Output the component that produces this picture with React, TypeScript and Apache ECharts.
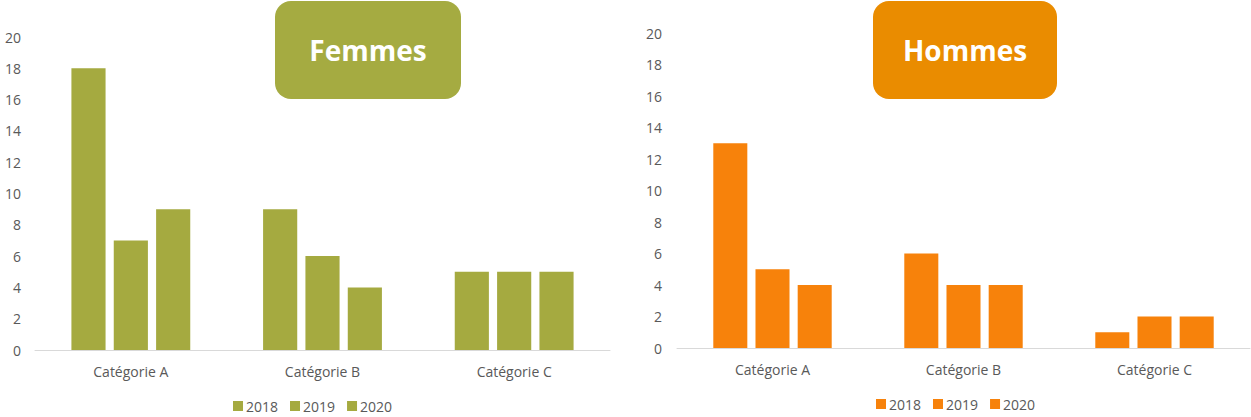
import React, { useEffect, useRef } from "react";
import * as echarts from "echarts";

const categories = ["Catégorie A", "Catégorie B", "Catégorie C"];
const years = ["2018", "2019", "2020"];
const femmes2018 = [18, 9, 5];
const femmes2019 = [7, 6, 5];
const femmes2020 = [9, 4, 5];
const hommes2018 = [13, 6, 1];
const hommes2019 = [5, 4, 2];
const hommes2020 = [4, 4, 2];

const FONT = "'Open Sans', 'Noto Sans', sans-serif";
const GREY = "#595959";

type Cfg = {
  title: string;
  boxColor: string;
  barColor: string;
  data: number[][];
  grid: { left: number; top: number; width: number; height: number };
  box: { x: number; y: number; w: number; h: number };
  legend: { left: number; top: number };
  yMargin: number;
};

function buildOption(c: Cfg) {
  return {
    animation: false,
    textStyle: { fontFamily: FONT },
    grid: { ...c.grid, containLabel: false },
    legend: {
      data: years,
      left: c.legend.left,
      top: c.legend.top,
      padding: 0,
      itemWidth: 10,
      itemHeight: 10,
      itemGap: 12,
      icon: "rect",
      textStyle: { color: GREY, fontSize: 14, fontFamily: FONT, padding: [0, 0, 0, -2] },
    },
    xAxis: {
      type: "category",
      data: categories,
      axisLine: { lineStyle: { color: "#D9D9D9", width: 1 } },
      axisTick: { show: false },
      axisLabel: { color: GREY, fontSize: 14, margin: 14, fontFamily: FONT },
    },
    yAxis: {
      type: "value",
      min: 0,
      max: 20,
      interval: 2,
      splitLine: { show: false },
      axisLine: { show: false },
      axisTick: { show: false },
      axisLabel: { color: GREY, fontSize: 14, margin: c.yMargin, fontFamily: FONT },
    },
    series: years.map((y, i) => ({
      name: y,
      type: "bar",
      data: c.data[i],
      itemStyle: { color: c.barColor },
      barGap: "24%",
      barCategoryGap: "38%",
    })),
    graphic: [
      {
        type: "rect",
        shape: { x: c.box.x, y: c.box.y, width: c.box.w, height: c.box.h, r: 16 },
        style: { fill: c.boxColor },
        z: 10,
      },
      {
        type: "text",
        x: c.box.x + c.box.w / 2,
        y: c.box.y + c.box.h / 2,
        style: {
          text: c.title,
          fill: "#FFFFFF",
          font: `bold 28px ${FONT}`,
          align: "center",
          verticalAlign: "middle",
        },
        z: 11,
      },
    ],
  };
}

function Chart({ cfg, left, width }: { cfg: Cfg; left: number; width: number }) {
  const ref = useRef<HTMLDivElement>(null);
  useEffect(() => {
    if (!ref.current) return;
    const chart = echarts.init(ref.current, undefined, { renderer: "svg" });
    chart.setOption(buildOption(cfg));
    return () => chart.dispose();
  }, []);
  return (
    <div
      ref={ref}
      style={{ position: "absolute", left, top: 0, width, height: 417 }}
    />
  );
}

const femmesCfg: Cfg = {
  title: "Femmes",
  boxColor: "#A5AB41",
  barColor: "#A5AA40",
  data: [femmes2018, femmes2019, femmes2020],
  grid: { left: 35, top: 37, width: 575, height: 313 },
  box: { x: 275, y: 1, w: 186, h: 98 },
  legend: { left: 233, top: 399 },
  yMargin: 14,
};

const hommesCfg: Cfg = {
  title: "Hommes",
  boxColor: "#EA8C00",
  barColor: "#F7820B",
  data: [hommes2018, hommes2019, hommes2020],
  grid: { left: 51, top: 33, width: 573, height: 315 },
  box: { x: 247, y: 1, w: 184, h: 98 },
  legend: { left: 250, top: 397 },
  yMargin: 15,
};

export default function App() {
  return (
    <div style={{ position: "fixed", left: 0, top: 0, width: 1251, height: 417, background: "#fff" }}>
      <Chart cfg={femmesCfg} left={0} width={626} />
      <Chart cfg={hommesCfg} left={626} width={625} />
    </div>
  );
}
